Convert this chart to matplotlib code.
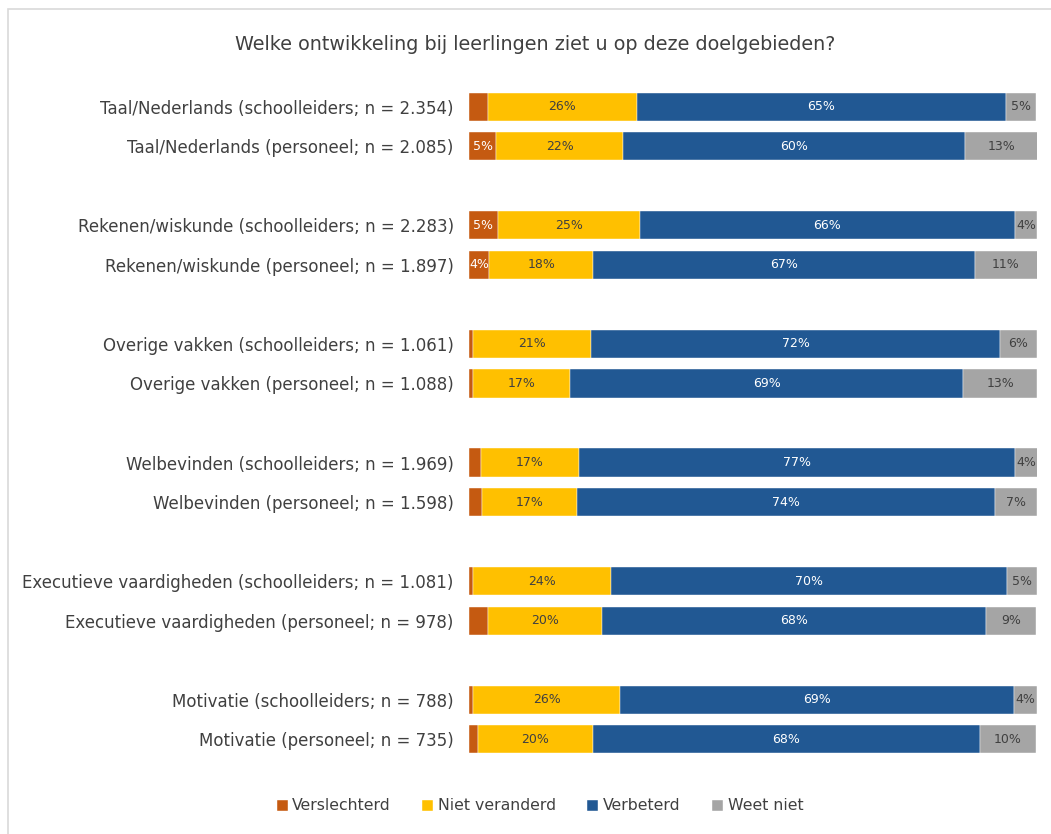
import matplotlib
matplotlib.use("Agg")
import matplotlib.pyplot as plt
from matplotlib.patches import Rectangle
import numpy as np

categories = [
    "Taal/Nederlands (schoolleiders; n = 2.354)",
    "Taal/Nederlands (personeel; n = 2.085)",
    "Rekenen/wiskunde (schoolleiders; n = 2.283)",
    "Rekenen/wiskunde (personeel; n = 1.897)",
    "Overige vakken (schoolleiders; n = 1.061)",
    "Overige vakken (personeel; n = 1.088)",
    "Welbevinden (schoolleiders; n = 1.969)",
    "Welbevinden (personeel; n = 1.598)",
    "Executieve vaardigheden (schoolleiders; n = 1.081)",
    "Executieve vaardigheden (personeel; n = 978)",
    "Motivatie (schoolleiders; n = 788)",
    "Motivatie (personeel; n = 735)",
]
verslechterd = [3.3, 4.8, 5.1, 3.6, 0.7, 0.7, 2.1, 2.3, 0.7, 3.3, 0.7, 1.6]
niet_veranderd = [26.2, 22.4, 25.0, 18.3, 20.8, 17.1, 17.3, 16.7, 24.3, 20.2, 25.9, 20.2]
verbeterd = [65.1, 60.2, 66.0, 67.1, 72.0, 69.2, 76.8, 73.6, 69.7, 67.6, 69.4, 68.1]
weet_niet = [5.3, 12.7, 3.9, 11.1, 6.5, 13.0, 3.9, 7.4, 5.3, 8.8, 4.0, 10.0]

series_names = ["Verslechterd", "Niet veranderd", "Verbeterd", "Weet niet"]
colors = ["#C55A11", "#FFC000", "#215893", "#A5A5A5"]
label_colors = ["white", "#404040", "white", "#404040"]
title = "Welke ontwikkeling bij leerlingen ziet u op deze doelgebieden?"

plt.rcParams['font.family'] = ['DejaVu Sans']

fig = plt.figure(figsize=(10.51, 8.34), dpi=100)
ax = fig.add_axes([469/1051, 1 - 759/834, (1037-469)/1051, (759-87)/834])

n = len(categories)
ypos = np.array([3*(i//2) + (i % 2) for i in range(n)], dtype=float)
data = [verslechterd, niet_veranderd, verbeterd, weet_niet]
left = np.zeros(n)
for vals, col, lc, name in zip(data, colors, label_colors, series_names):
    vals = np.array(vals)
    ax.barh(ypos, vals, left=left, height=0.71, color=col, label=name,
            edgecolor="white", linewidth=0.3)
    for y, l, v in zip(ypos, left, vals):
        if v >= 3.5:
            ax.text(l + v/2, y, f"{v:.0f}%", ha="center", va="center",
                    fontsize=9, color=lc)
    left += vals

ax.set_xlim(0, 100)
ax.set_ylim(ypos.max() + 0.5, -0.5)
ax.set_yticks(ypos)
ax.set_yticklabels(categories, fontsize=12, color="#404040")
ax.tick_params(axis="y", length=0, pad=11)
ax.set_xticks([])
for s in ax.spines.values():
    s.set_visible(False)

fig.text(535/1051, 1 - 45/834, title, ha="center", va="center",
         fontsize=13.8, color="#404040")

leg = fig.legend(loc="center", bbox_to_anchor=(540/1051, 1 - 806/834), ncol=4,
                 frameon=False, fontsize=11.3, handlelength=0.7, handleheight=0.7,
                 handletextpad=0.3, columnspacing=2.0)
for t in leg.get_texts():
    t.set_color("#404040")

fig.patches.append(Rectangle((8/1051, -0.1), 1.2, 1.1 - 9/834,
                             transform=fig.transFigure, fill=False,
                             edgecolor="#D9D9D9", linewidth=1.2))

fig.savefig("out.png", dpi=100)
